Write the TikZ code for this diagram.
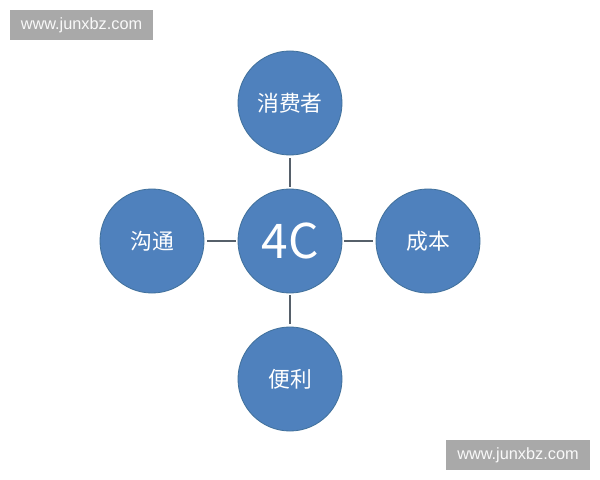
\documentclass[tikz,border=0pt]{standalone}
\usepackage{fontspec}
\setmainfont{Liberation Sans}
\newfontfamily\cjk{Noto Sans CJK SC}
\definecolor{ballblue}{HTML}{4F81BD}
\definecolor{ballrim}{HTML}{41719C}
\definecolor{linkgray}{HTML}{56606A}
\definecolor{markgray}{HTML}{A9A9A9}

\begin{document}
\begin{tikzpicture}[x=0.025cm,y=-0.025cm]

      \useasboundingbox[fill=white] (0,0) rectangle (600,480);

      \begin{scope}[every node/.style={circle,draw=ballrim,line width=0.6pt,fill=ballblue,
          text=white,minimum size=2.6cm,inner sep=0pt,font=\cjk\fontsize{15.5}{18}\selectfont}]
        \node (4C)  at (290,241) {\fontsize{34}{40}\selectfont 4C};
        \node (xfz) at (290,103) {消费者};
        \node (gt)  at (152,241) {沟通};
        \node (cb)  at (428,241) {成本};
        \node (bl)  at (290,379) {便利};
      \end{scope}

      \begin{scope}[every edge/.style={draw=linkgray,line width=1.3pt,shorten <=2pt,shorten >=1pt}]
        \path (xfz) edge (4C);
        \path (gt)  edge (4C);
        \path (cb)  edge (4C);
        \path (bl)  edge (4C);
      \end{scope}

      \begin{scope}[every node/.style={fill=markgray,text=white!95!gray,minimum width=3.575cm,
          minimum height=0.75cm,inner sep=0pt,font=\fontsize{11.6}{14}\selectfont}]
        \node (mark1) at (81.5,25)  {www.junxbz.com};
        \node (mark2) at (518,455)  {www.junxbz.com};
      \end{scope}

    \end{tikzpicture}
\end{document}
